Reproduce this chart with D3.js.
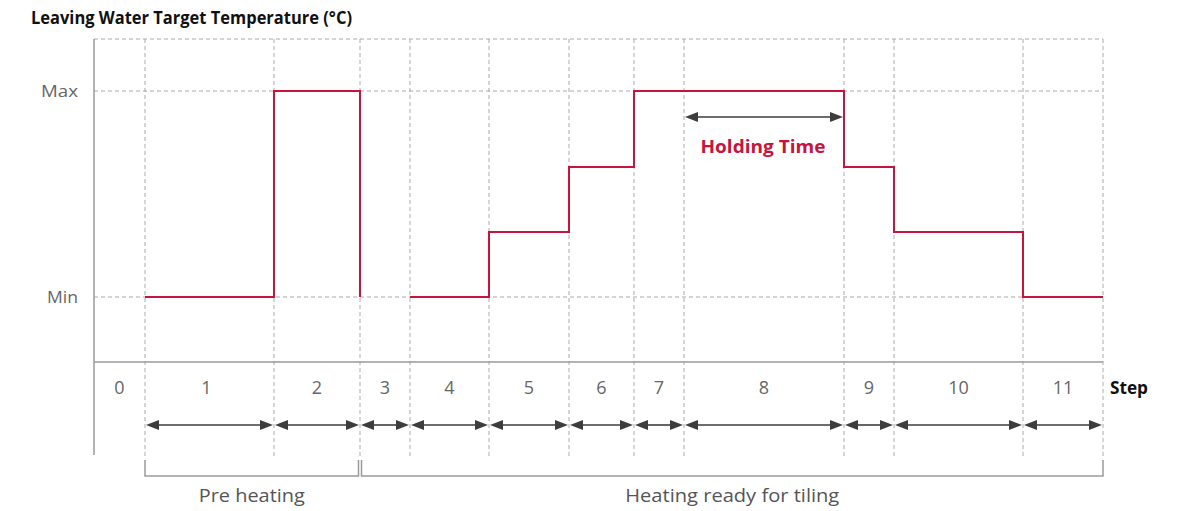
<!DOCTYPE html>
<html>
<head>
<meta charset="utf-8">
<script src="https://cdn.jsdelivr.net/npm/d3@7"></script>
<style>
  html, body { margin: 0; padding: 0; background: #fff; }
  svg { display: block; }
  text { font-family: "Open Sans", "Noto Sans", sans-serif; }
</style>
</head>
<body>
<svg id="chart" width="1183" height="511"></svg>
<script>
// ---------- data ----------
const stepLabels = ["0","1","2","3","4","5","6","7","8","9","10","11"];
const stepDurations = [51, 129, 86, 50, 79, 80, 65, 50, 160, 50, 129, 80];   // relative time units
const stepTemps = [null, 0, 100, null, 0, 31.6, 63.1, 100, 100, 63.1, 31.6, 0]; // % between Min (0) and Max (100)
const yTickLabels = ["Min", "Max"];
const yTickValues = [0, 100];
const phaseNames = ["Pre heating", "Heating ready for tiling"];
const phaseSteps = [[1, 2], [3, 11]];
const holdingStep = 8;

// ---------- layout ----------
const svg = d3.select("#chart");
const red = "#c8143c";
const dark = "#3d3d3d";
const gridC = "#aaaaaa";
const axisC = "#9a9a9a";

const edges = [0];
stepDurations.forEach(d => edges.push(edges[edges.length - 1] + d));
const x = d3.scaleLinear().domain([0, edges[edges.length - 1]]).range([94, 1103]);
const y = d3.scaleLinear().domain([0, 100]).range([297, 91]);
const yTop = 39, yAxis = 362, yBottom = 455;

// title
svg.append("text").attr("x", 31).attr("y", 24)
  .attr("font-size", 17).attr("font-weight", 700).attr("fill", "#111")
  .attr("textLength", 321).attr("lengthAdjust", "spacingAndGlyphs")
  .text("Leaving Water Target Temperature (°C)");

// horizontal dashed grid (top, Max, Min)
const hLines = [yTop, y(100), y(0)];
svg.append("g").selectAll("line").data(hLines).join("line")
  .attr("x1", x(0)).attr("x2", x(edges[edges.length - 1]))
  .attr("y1", d => d).attr("y2", d => d)
  .attr("stroke", gridC).attr("stroke-width", 1).attr("stroke-dasharray", "4,3");

// vertical dashed grid at step boundaries
svg.append("g").selectAll("line").data(edges.slice(1)).join("line")
  .attr("x1", d => x(d)).attr("x2", d => x(d))
  .attr("y1", yTop).attr("y2", 458)
  .attr("stroke", gridC).attr("stroke-width", 1).attr("stroke-dasharray", "4,3");

// axes
svg.append("line").attr("x1", x(0)).attr("x2", x(0)).attr("y1", yTop).attr("y2", yBottom)
  .attr("stroke", axisC).attr("stroke-width", 1.5);
svg.append("line").attr("x1", x(0)).attr("x2", x(edges[edges.length - 1])).attr("y1", yAxis).attr("y2", yAxis)
  .attr("stroke", axisC).attr("stroke-width", 1.5);

// y tick labels
svg.append("g").selectAll("text").data(yTickValues).join("text")
  .attr("x", 78).attr("y", d => y(d) + 6)
  .attr("text-anchor", "end").attr("font-size", 17).attr("fill", "#666")
  .attr("textLength", (d, i) => i === 1 ? 37 : 31).attr("lengthAdjust", "spacingAndGlyphs")
  .text((d, i) => yTickLabels[i]);

// step labels
svg.append("g").selectAll("text").data(stepLabels).join("text")
  .attr("x", (d, i) => x((edges[i] + edges[i + 1]) / 2) - (i === 1 ? 3 : 0))
  .attr("y", 394)
  .attr("text-anchor", "middle").attr("font-size", 18).attr("fill", "#666")
  .text(d => d);
svg.append("text").attr("x", 1110).attr("y", 394)
  .attr("font-size", 17).attr("font-weight", 700).attr("fill", "#111")
  .attr("textLength", 38).attr("lengthAdjust", "spacingAndGlyphs")
  .text("Step");

// temperature step line
const segs = [];
let cur = [];
stepTemps.forEach((t, i) => {
  if (t === null) { if (cur.length) segs.push(cur); cur = []; return; }
  cur.push([x(edges[i]), y(t)]);
  cur.push([x(edges[i + 1]), y(t)]);
});
if (cur.length) segs.push(cur);
// step 2 ends with a drop back to Min before the gap
segs[0].push([x(edges[3]), y(0)]);
const line = d3.line();
svg.append("g").selectAll("path").data(segs).join("path")
  .attr("d", line).attr("fill", "none").attr("stroke", red).attr("stroke-width", 2);

// double arrow helper
function dblArrow(g, x1, x2, yy) {
  const hl = 13, hw = 5;
  g.append("line").attr("x1", x1 + hl - 1).attr("x2", x2 - hl + 1).attr("y1", yy).attr("y2", yy)
    .attr("stroke", dark).attr("stroke-width", 1.6);
  g.append("path").attr("d", `M${x1},${yy}L${x1 + hl},${yy - hw}L${x1 + hl},${yy + hw}Z`).attr("fill", dark);
  g.append("path").attr("d", `M${x2},${yy}L${x2 - hl},${yy - hw}L${x2 - hl},${yy + hw}Z`).attr("fill", dark);
}
const arrows = svg.append("g");
for (let i = 1; i < stepLabels.length; i++) {
  dblArrow(arrows, x(edges[i]) + 1, x(edges[i + 1]) - 1, 425);
}

// holding time
dblArrow(svg.append("g"), x(edges[holdingStep]) + 1, x(edges[holdingStep + 1]) - 1, 117);
svg.append("text").attr("x", x((edges[holdingStep] + edges[holdingStep + 1]) / 2) - 1)
  .attr("y", 153).attr("text-anchor", "middle")
  .attr("font-size", 18).attr("font-weight", 700).attr("fill", red)
  .attr("textLength", 125).attr("lengthAdjust", "spacingAndGlyphs")
  .text("Holding Time");

// phase brackets
const br = svg.append("g");
phaseSteps.forEach((p, k) => {
  const xa = x(edges[p[0]]) + (k === 0 ? 0 : 1.5);
  const xb = x(edges[p[1] + 1]) - (k === 0 ? 1.5 : 0);
  br.append("path")
    .attr("d", `M${xa},460V476H${xb}V460`)
    .attr("fill", "none").attr("stroke", axisC).attr("stroke-width", 1.5);
  const w = k === 0 ? 106 : 214;
  br.append("text").attr("x", (xa + xb) / 2).attr("y", 502)
    .attr("text-anchor", "middle").attr("font-size", 19).attr("fill", "#555")
    .attr("textLength", w).attr("lengthAdjust", "spacingAndGlyphs")
    .text(phaseNames[k]);
});
</script>
</body>
</html>
